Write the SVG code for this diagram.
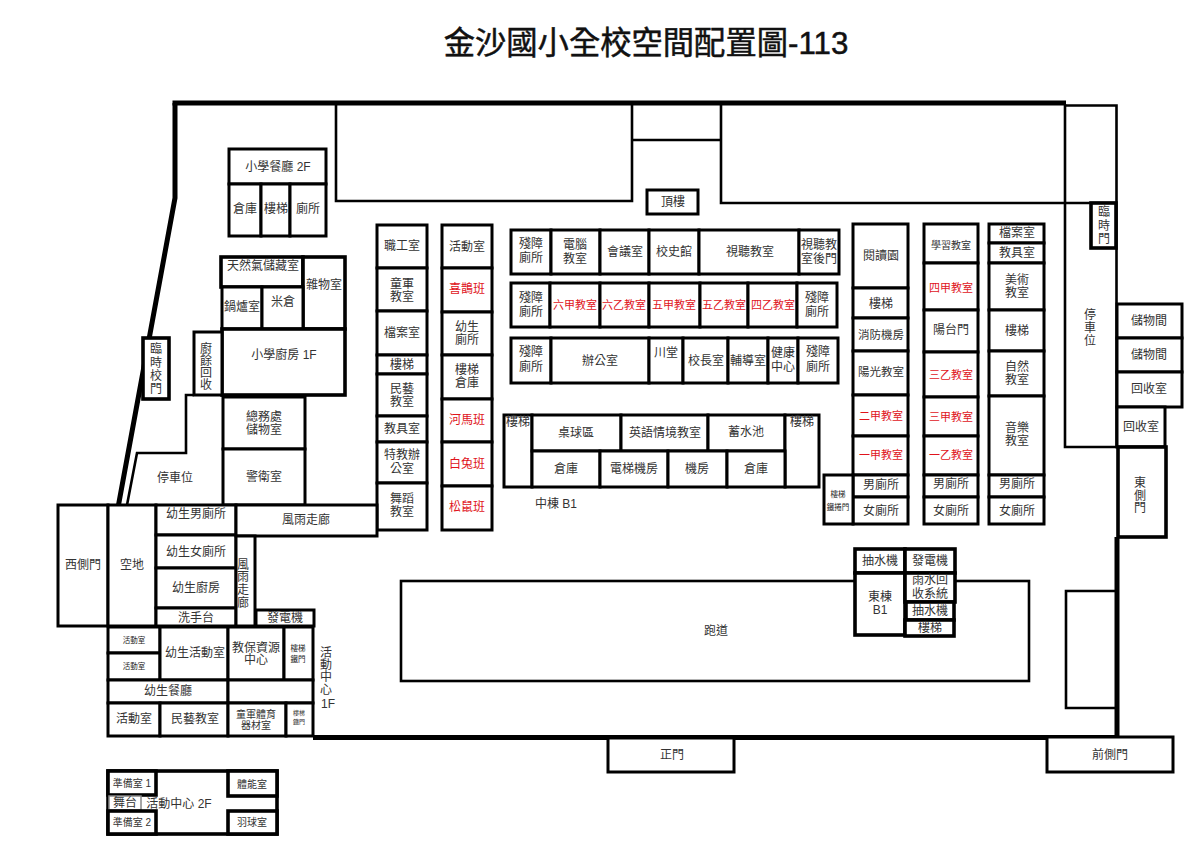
<svg xmlns="http://www.w3.org/2000/svg" width="1199" height="842" viewBox="0 0 1199 842">
<style>
rect{fill:#fff;stroke:#000;stroke-width:3}
.t{fill:none;stroke:#000;stroke-width:2.6}
.k{fill:none;stroke:#000;stroke-width:5}
.m{stroke-width:3.6}
text{font-family:"Liberation Sans","Noto Sans CJK TC",sans-serif;font-size:12px;fill:#333;text-anchor:middle;dominant-baseline:central;transform:translate(0,1px)}
.r{fill:#e0141c}
.s{font-size:11px}
.x{font-size:7.5px;fill:#222}
.h{font-size:10px}
.title{font-size:31.300px;fill:#111;stroke:#111;stroke-width:.5}
</style>
<rect width="1199" height="842" style="fill:#fff;stroke:none"/>
<text class="title" x="646" y="42">金沙國小全校空間配置圖-113</text>
<g id="site-outline">
<path class="k" d="M172.500 103H1066"/>
<path class="k" d="M175 103V198L118.500 505"/>
<path class="t" d="M336 104V201H632V104M632 140H721M721 104V203H1065M632 104V140M721 104V140"/>
<path class="t" d="M1065 104V447H1117M1065 105.500H1116.500V447M1065 203H1117"/>
<path class="k" d="M1117 537V738"/>
<path class="k" d="M313 737.500H1117"/>
<path class="t" d="M194 395H186V453H137L127 505"/>
<path class="t" d="M1117 591H1066V708H1117"/>
</g>
<g id="n1"><rect x="229" y="149" width="97" height="35"/><text x="278" y="166">小學餐廳 2F</text></g>
<g id="n2"><rect x="229" y="184" width="32" height="52"/><text x="245" y="208">倉庫</text></g>
<g id="n3"><rect x="261" y="184" width="29" height="52"/><text x="276" y="208">樓梯</text></g>
<g id="n4"><rect x="290" y="184" width="36" height="52"/><text x="308" y="208">廁所</text></g>
<g id="n5"><rect class="m" x="221" y="257" width="82" height="30"/><text x="263" y="265">天然氣儲藏室</text></g>
<g id="n6"><rect class="m" x="303" y="257" width="42" height="72"/><text x="324" y="284">雜物室</text></g>
<g id="n7"><rect x="222" y="287" width="40" height="42"/><text x="242" y="306">鍋爐室</text></g>
<g id="n8"><rect x="262" y="287" width="41" height="42"/><text x="283" y="301">米倉</text></g>
<g id="n9"><rect class="m" x="222" y="329" width="123" height="66"/><text x="284" y="354">小學廚房 1F</text></g>
<g id="n10"><rect x="194" y="332" width="28" height="63"/><text x="206" y="348">廚</text><text x="206" y="360">餘</text><text x="206" y="372">回</text><text x="206" y="384">收</text></g>
<g id="n11"><rect class="m" x="143" y="338" width="26" height="61"/><text x="156" y="348">臨</text><text x="156" y="362">時</text><text x="156" y="375">校</text><text x="156" y="388">門</text></g>
<g id="n12"><rect x="223" y="397" width="82" height="52"/><text x="264" y="416">總務處</text><text x="264" y="429">儲物室</text></g>
<g id="n13"><rect x="223" y="449" width="82" height="56"/><text x="264" y="476">警衛室</text></g>
<text x="175" y="477">停車位</text>
<g id="n14"><rect x="377" y="225" width="50" height="43"/><text x="402" y="245">職工室</text></g>
<g id="n15"><rect x="377" y="268" width="50" height="43"/><text x="402" y="283">童軍</text><text x="402" y="296">教室</text></g>
<g id="n16"><rect x="377" y="311" width="50" height="44"/><text x="402" y="332">檔案室</text></g>
<g id="n17"><rect x="377" y="355" width="50" height="19"/><text x="402" y="364">樓梯</text></g>
<g id="n18"><rect x="377" y="374" width="50" height="42"/><text x="402" y="388">民藝</text><text x="402" y="401">教室</text></g>
<g id="n19"><rect x="377" y="416" width="50" height="26"/><text x="402" y="428">教具室</text></g>
<g id="n20"><rect x="377" y="442" width="50" height="41"/><text x="402" y="454">特教辦</text><text x="402" y="468">公室</text></g>
<g id="n21"><rect x="377" y="483" width="50" height="47"/><text x="402" y="498">舞蹈</text><text x="402" y="511">教室</text></g>
<g id="n22"><rect x="442" y="225" width="50" height="43"/><text x="467" y="246">活動室</text></g>
<g id="n23"><rect x="442" y="268" width="50" height="44"/><text class="r" x="467" y="288">喜鵲班</text></g>
<g id="n24"><rect x="442" y="312" width="50" height="43"/><text x="467" y="326">幼生</text><text x="467" y="339">廁所</text></g>
<g id="n25"><rect x="442" y="355" width="50" height="44"/><text x="467" y="369">樓梯</text><text x="467" y="382">倉庫</text></g>
<g id="n26"><rect x="442" y="399" width="50" height="43"/><text class="r" x="467" y="419">河馬班</text></g>
<g id="n27"><rect x="442" y="442" width="50" height="44"/><text class="r" x="467" y="463">白兔班</text></g>
<g id="n28"><rect x="442" y="486" width="50" height="44"/><text class="r" x="467" y="506">松鼠班</text></g>
<g id="n29"><rect x="511" y="230" width="40" height="44"/><text x="531" y="243">殘障</text><text x="531" y="257">廁所</text></g>
<g id="n30"><rect x="551" y="230" width="49" height="44"/><text x="575" y="244">電腦</text><text x="575" y="258">教室</text></g>
<g id="n31"><rect x="600" y="230" width="49" height="44"/><text x="625" y="251">會議室</text></g>
<g id="n32"><rect x="649" y="230" width="50" height="44"/><text x="674" y="251">校史館</text></g>
<g id="n33"><rect x="699" y="230" width="100" height="44"/><text x="750" y="251">視聽教室</text></g>
<g id="n34"><rect x="799" y="230" width="40" height="44"/><text x="819" y="244">視聽教</text><text x="819" y="258">室後門</text></g>
<g id="n35"><rect x="511" y="283" width="39" height="44"/><text x="531" y="297">殘障</text><text x="531" y="311">廁所</text></g>
<g id="n36"><rect x="550" y="283" width="50" height="44"/><text class="r s" x="575" y="304">六甲教室</text></g>
<g id="n37"><rect x="600" y="283" width="49" height="44"/><text class="r s" x="624" y="304">六乙教室</text></g>
<g id="n38"><rect x="649" y="283" width="51" height="44"/><text class="r s" x="674" y="304">五甲教室</text></g>
<g id="n39"><rect x="700" y="283" width="48" height="44"/><text class="r s" x="724" y="304">五乙教室</text></g>
<g id="n40"><rect x="748" y="283" width="49" height="44"/><text class="r s" x="773" y="304">四乙教室</text></g>
<g id="n41"><rect x="797" y="283" width="40" height="44"/><text x="817" y="297">殘障</text><text x="817" y="311">廁所</text></g>
<g id="n42"><rect x="511" y="338" width="40" height="45"/><text x="531" y="351">殘障</text><text x="531" y="366">廁所</text></g>
<g id="n43"><rect x="551" y="338" width="98" height="45"/><text x="600" y="360">辦公室</text></g>
<g id="n44"><rect x="649" y="338" width="34" height="45"/><text x="666" y="352">川堂</text></g>
<g id="n45"><rect x="683" y="338" width="45" height="45"/><text x="706" y="360">校長室</text></g>
<g id="n46"><rect x="728" y="338" width="40" height="45"/><text x="748" y="360">輔導室</text></g>
<g id="n47"><rect x="768" y="338" width="30" height="45"/><text x="783" y="352">健康</text><text x="783" y="366">中心</text></g>
<g id="n48"><rect x="798" y="338" width="40" height="45"/><text x="818" y="351">殘障</text><text x="818" y="366">廁所</text></g>
<g id="n49"><rect x="504" y="415" width="28" height="72"/><text x="518" y="421">樓梯</text></g>
<g id="n50"><rect x="532" y="415" width="89" height="36"/><text x="576" y="432">桌球區</text></g>
<g id="n51"><rect x="621" y="415" width="87" height="36"/><text x="665" y="432">英語情境教室</text></g>
<g id="n52"><rect x="708" y="415" width="77" height="36"/><text x="746" y="431">蓄水池</text></g>
<g id="n53"><rect x="785" y="415" width="34" height="72"/><text x="802" y="421">樓梯</text></g>
<g id="n54"><rect x="532" y="451" width="68" height="36"/><text x="566" y="468">倉庫</text></g>
<g id="n55"><rect x="600" y="451" width="68" height="36"/><text x="634" y="468">電梯機房</text></g>
<g id="n56"><rect x="668" y="451" width="59" height="36"/><text x="697" y="468">機房</text></g>
<g id="n57"><rect x="727" y="451" width="58" height="36"/><text x="756" y="468">倉庫</text></g>
<text x="556" y="503">中棟 B1</text>
<g id="n58"><rect x="647" y="190" width="51" height="24"/><text x="673" y="201">頂樓</text></g>
<g id="n59"><rect x="853" y="224" width="55" height="64"/><text x="881" y="255">閱讀園</text></g>
<g id="n60"><rect x="853" y="288" width="55" height="30"/><text x="881" y="303">樓梯</text></g>
<g id="n61"><rect x="853" y="318" width="55" height="33"/><text x="881" y="334" style="font-size:11.500px">消防機房</text></g>
<g id="n62"><rect x="853" y="351" width="55" height="44"/><text x="881" y="371" style="font-size:11.500px">陽光教室</text></g>
<g id="n63"><rect x="853" y="395" width="55" height="41"/><text class="r s" x="881" y="415">二甲教室</text></g>
<g id="n64"><rect x="853" y="436" width="55" height="39"/><text class="r s" x="881" y="454">一甲教室</text></g>
<g id="n65"><rect x="853" y="475" width="55" height="22"/><text x="881" y="484">男廁所</text></g>
<g id="n66"><rect x="853" y="497" width="55" height="27"/><text x="881" y="510">女廁所</text></g>
<g id="n67"><rect x="824" y="475" width="29" height="49"/><text class="x" x="838" y="493">樓梯</text><text class="x" x="838" y="506">鐵捲門</text></g>
<g id="n68"><rect x="924" y="224" width="54" height="39"/><text class="h" x="951" y="244">學習教室</text></g>
<g id="n69"><rect x="924" y="263" width="54" height="47"/><text class="r s" x="951" y="287">四甲教室</text></g>
<g id="n70"><rect x="924" y="310" width="54" height="42"/><text x="951" y="329">陽台門</text></g>
<g id="n71"><rect x="924" y="352" width="54" height="45"/><text class="r s" x="951" y="374">三乙教室</text></g>
<g id="n72"><rect x="924" y="397" width="54" height="39"/><text class="r s" x="951" y="416">三甲教室</text></g>
<g id="n73"><rect x="924" y="436" width="54" height="39"/><text class="r s" x="951" y="454">一乙教室</text></g>
<g id="n74"><rect x="924" y="475" width="54" height="22"/><text x="951" y="483">男廁所</text></g>
<g id="n75"><rect x="924" y="497" width="54" height="27"/><text x="951" y="510">女廁所</text></g>
<g id="n76"><rect x="989" y="224" width="55" height="19"/><text x="1017" y="232">檔案室</text></g>
<g id="n77"><rect x="989" y="243" width="55" height="20"/><text x="1017" y="252">教具室</text></g>
<g id="n78"><rect x="989" y="263" width="55" height="47"/><text x="1017" y="279">美術</text><text x="1017" y="292">教室</text></g>
<g id="n79"><rect x="989" y="310" width="55" height="41"/><text x="1017" y="330">樓梯</text></g>
<g id="n80"><rect x="989" y="351" width="55" height="45"/><text x="1017" y="366">自然</text><text x="1017" y="379">教室</text></g>
<g id="n81"><rect x="989" y="396" width="55" height="79"/><text x="1017" y="427">音樂</text><text x="1017" y="440">教室</text></g>
<g id="n82"><rect x="989" y="475" width="55" height="22"/><text x="1017" y="483">男廁所</text></g>
<g id="n83"><rect x="989" y="497" width="55" height="27"/><text x="1017" y="510">女廁所</text></g>
<g id="n84"><rect class="m" x="1091" y="203" width="25" height="45"/><text x="1104" y="211">臨</text><text x="1104" y="225">時</text><text x="1104" y="238">門</text></g>
<text x="1090" y="314">停</text><text x="1090" y="327">車</text><text x="1090" y="340">位</text>
<g id="n85"><rect x="1117" y="304" width="65" height="34"/><text x="1149" y="320">儲物間</text></g>
<g id="n86"><rect x="1117" y="338" width="65" height="34"/><text x="1149" y="354">儲物間</text></g>
<g id="n87"><rect x="1117" y="372" width="65" height="35"/><text x="1149" y="388">回收室</text></g>
<g id="n88"><rect x="1117" y="407" width="48" height="40"/><text x="1141" y="426">回收室</text></g>
<g id="n89"><rect class="m" x="1118" y="447" width="48" height="90"/><text x="1140" y="482">東</text><text x="1140" y="495">側</text><text x="1140" y="507">門</text></g>
<g id="n90"><rect x="58" y="505" width="50" height="121"/><text x="83" y="564">西側門</text></g>
<g id="n91"><rect x="108" y="505" width="48" height="121"/><text x="132" y="564">空地</text></g>
<g id="n92"><rect x="156" y="505" width="80" height="30"/><text x="196" y="513">幼生男廁所</text></g>
<g id="n93"><rect x="156" y="535" width="80" height="33"/><text x="196" y="551">幼生女廁所</text></g>
<g id="n94"><rect x="156" y="568" width="80" height="40"/><text x="196" y="587">幼生廚房</text></g>
<g id="n95"><rect x="156" y="608" width="80" height="18"/><text x="196" y="617">洗手台</text></g>
<g id="n96"><rect x="236" y="505" width="141" height="31"/><text x="306" y="519">風雨走廊</text></g>
<g id="n97"><rect x="236" y="536" width="19" height="90"/><text x="243" y="564">風</text><text x="243" y="576">雨</text><text x="243" y="589">走</text><text x="243" y="602">廊</text></g>
<g id="n98"><rect x="256" y="610" width="58" height="16"/><text x="285" y="617">發電機</text></g>
<g id="n99"><rect x="108" y="627" width="52" height="26"/><text class="x" x="134" y="639">活動室</text></g>
<g id="n100"><rect x="108" y="653" width="52" height="27"/><text class="x" x="134" y="665">活動室</text></g>
<g id="n101"><rect x="160" y="627" width="68" height="53"/><text x="195" y="652">幼生活動室</text></g>
<g id="n102"><rect x="228" y="627" width="56" height="53"/><text x="256" y="647">教保資源</text><text x="256" y="659">中心</text></g>
<g id="n103"><rect x="284" y="627" width="29" height="53"/><text class="x" x="298" y="647">樓梯</text><text class="x" x="298" y="658">鐵門</text></g>
<g id="n104"><rect x="108" y="680" width="120" height="23"/><text x="168" y="690">幼生餐廳</text></g>
<g id="n105"><rect x="228" y="680" width="85" height="23"/></g>
<g id="n106"><rect x="108" y="703" width="52" height="33"/><text x="134" y="718">活動室</text></g>
<g id="n107"><rect x="160" y="703" width="68" height="33"/><text x="195" y="718">民藝教室</text></g>
<g id="n108"><rect x="228" y="703" width="58" height="33"/><text class="h" x="256" y="713">童軍體育</text><text class="h" x="256" y="724">器材室</text></g>
<g id="n109"><rect x="286" y="703" width="27" height="33"/><text x="299" y="712" style="font-size:6px">樓梯</text><text x="299" y="721" style="font-size:6px">鐵門</text></g>
<text x="326" y="652">活</text><text x="326" y="664">動</text><text x="326" y="676">中</text><text x="326" y="689">心</text><text x="328" y="703">1F</text>
<g id="n110"><rect class="m" x="108" y="771" width="169" height="63"/><text x="179" y="803">活動中心 2F</text></g>
<g id="n111"><rect class="m" x="108" y="771" width="48" height="24"/><text class="h" x="132" y="782">準備室 1</text></g>
<g id="n112"><rect x="109" y="796" width="32" height="14" style="stroke-width:1.500;stroke:#888"/><text x="125" y="802">舞台</text></g>
<g id="n113"><rect class="m" x="108" y="811" width="48" height="23"/><text class="h" x="132" y="821">準備室 2</text></g>
<g id="n114"><rect class="m" x="228" y="771" width="49" height="25"/><text class="h" x="252" y="783">體能室</text></g>
<g id="n115"><rect class="m" x="228" y="811" width="49" height="23"/><text class="h" x="252" y="821">羽球室</text></g>
<g id="n116"><rect x="608" y="738" width="126" height="34"/><text x="672" y="754">正門</text></g>
<g id="n117"><rect x="1047" y="737" width="126" height="35"/><text x="1110" y="754">前側門</text></g>
<g id="n118"><rect class="t" x="401" y="581" width="628" height="100"/><text x="716" y="630">跑道</text></g>
<g id="n119"><rect class="m" x="855" y="549" width="50" height="24"/><text x="880" y="560">抽水機</text></g>
<g id="n120"><rect class="m" x="905" y="549" width="50" height="24"/><text x="930" y="560">發電機</text></g>
<g id="n121"><rect class="m" x="855" y="573" width="50" height="62"/><text x="880" y="596">東棟</text><text x="880" y="609">B1</text></g>
<g id="n122"><rect class="m" x="905" y="573" width="50" height="29"/><text x="930" y="579">雨水回</text><text x="930" y="593">收系統</text></g>
<g id="n123"><rect class="m" x="906" y="602" width="48" height="18"/><text x="930" y="610">抽水機</text></g>
<g id="n124"><rect class="m" x="905" y="620" width="49" height="16"/><text x="930" y="627">樓梯</text></g>
</svg>
